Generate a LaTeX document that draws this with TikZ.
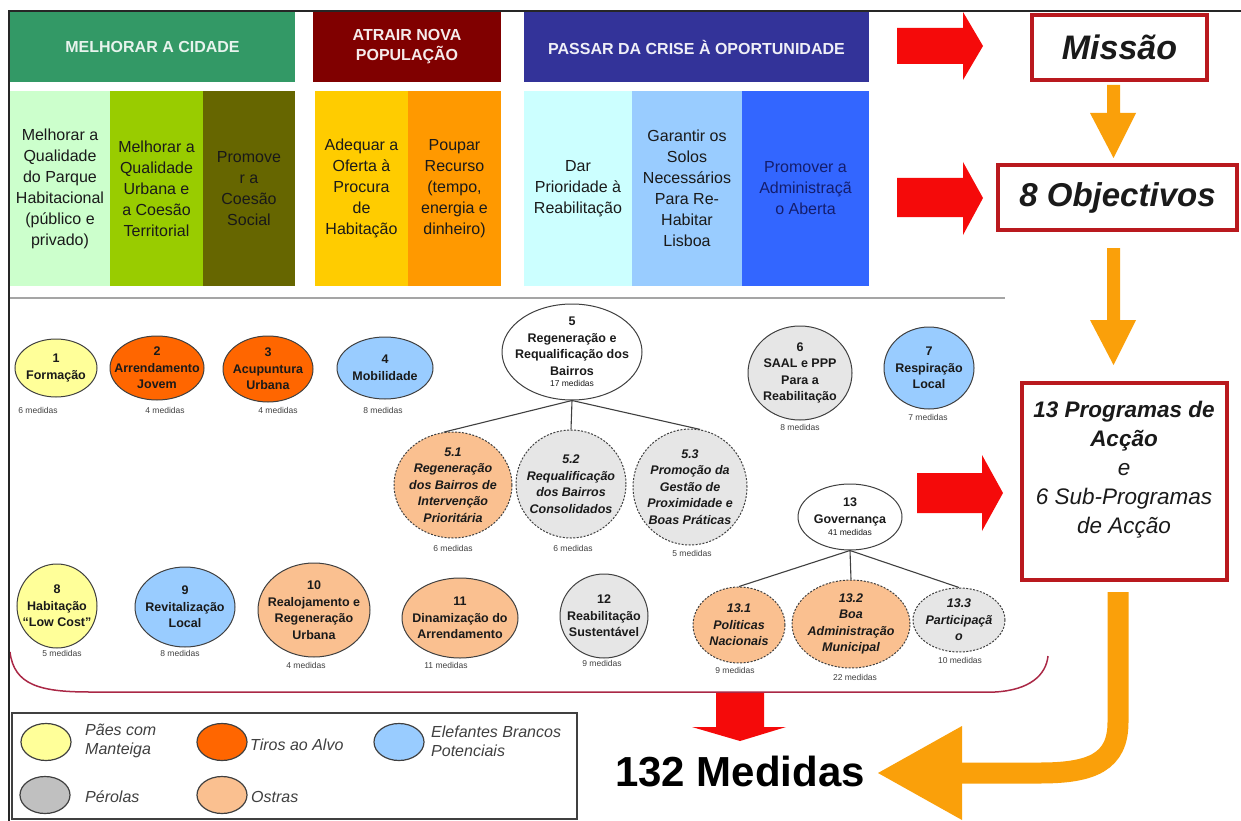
\documentclass[tikz,border=0pt]{standalone}
\usepackage{fontspec}
\setmainfont{Liberation Sans}
\usetikzlibrary{shapes.geometric}
\definecolor{hgreen}{RGB}{51,153,102}
\definecolor{hred}{RGB}{128,0,0}
\definecolor{hblue}{RGB}{51,51,153}
\definecolor{c1}{RGB}{204,255,204}
\definecolor{c2}{RGB}{153,204,0}
\definecolor{c3}{RGB}{102,102,0}
\definecolor{c4}{RGB}{255,204,0}
\definecolor{c5}{RGB}{255,153,0}
\definecolor{c6}{RGB}{204,255,255}
\definecolor{c7}{RGB}{153,204,255}
\definecolor{c8}{RGB}{51,102,255}
\definecolor{yel}{RGB}{255,255,153}
\definecolor{ora}{RGB}{255,102,0}
\definecolor{blu}{RGB}{153,204,255}
\definecolor{gry}{RGB}{230,230,230}
\definecolor{pea}{RGB}{250,192,144}
\definecolor{lgry}{RGB}{192,192,192}
\definecolor{edge}{RGB}{64,64,64}
\definecolor{txt}{RGB}{26,26,26}
\definecolor{darkblue}{RGB}{20,30,110}
\definecolor{arrred}{RGB}{245,10,10}
\definecolor{arrora}{RGB}{250,160,10}
\definecolor{boxred}{RGB}{185,25,30}
\definecolor{curvec}{RGB}{170,40,70}
\definecolor{sepc}{RGB}{165,165,165}
\newcommand\mymed{\fontsize{8.5}{10}\selectfont\mdseries\upshape}
\tikzset{
 prog/.style={ellipse, draw=edge, line width=1pt, inner sep=-60pt, align=center, text=txt, font=\fontsize{12.5}{16.5}\selectfont\bfseries},
 subp/.style={prog, dash pattern=on 2pt off 1.5pt, font=\fontsize{12.5}{16.5}\selectfont\bfseries\itshape},
 sz/.style 2 args={minimum width=#1pt, minimum height=#2pt},
 med/.style={inner sep=0pt, text=edge, font=\fontsize{8.5}{10}\selectfont},
 coltxt/.style={inner sep=0pt, align=center, font=\fontsize{16}{21}\selectfont, text=txt, minimum height=195pt},
 head/.style={inner sep=0pt, align=center, font=\fontsize{16}{20}\selectfont\bfseries, minimum height=70pt},
 bigbox/.style={draw=boxred, line width=4pt, inner sep=0pt},
 legc/.style={ellipse, draw=edge, line width=1.2pt, minimum width=50pt, minimum height=37pt, inner sep=0pt},
 legt/.style={anchor=west, align=left, inner sep=0pt, text=edge, font=\fontsize{16}{19}\selectfont\itshape},
 tree/.style={draw=edge, line width=1.1pt},
}
\begin{document}
\begin{tikzpicture}[x=1pt,y=-1pt]
\useasboundingbox (0,0) rectangle (1241,821);
\fill[white] (0,0) rectangle (1241,821);

% headers
\node[head, fill=hgreen, minimum width=285pt, text=white!88!hgreen] (h1) at (152.5,47) {MELHORAR A CIDADE};
\node[head, fill=hred, minimum width=188pt, text=white!92!hred] (h2) at (407,47) {ATRAIR NOVA\\POPULAÇÃO};
\node[head, fill=hblue, minimum width=345pt, text=white!92!hblue] (h3) at (696.5,47) {PASSAR DA CRISE À OPORTUNIDADE};

% columns
\node[coltxt, fill=c1, minimum width=100pt] (k1) at (60,188.5) {Melhorar a\\Qualidade\\do Parque\\Habitacional\\(público e\\privado)};
\node[coltxt, fill=c2, minimum width=93pt] (k2) at (156.5,188.5) {Melhorar a\\Qualidade\\Urbana e\\a Coesão\\Territorial};
\node[coltxt, fill=c3, minimum width=92pt, text=black!90] (k3) at (249,188.5) {Promove\\r a\\Coesão\\Social};
\node[coltxt, fill=c4, minimum width=93pt] (k4) at (361.5,188.5) {Adequar a\\Oferta à\\Procura\\de\\Habitação};
\node[coltxt, fill=c5, minimum width=93pt] (k5) at (454.5,188.5) {Poupar\\Recurso\\(tempo,\\energia e\\dinheiro)};
\node[coltxt, fill=c6, minimum width=108pt] (k6) at (578,188.5) {Dar\\Prioridade à\\Reabilitação};
\node[coltxt, fill=c7, minimum width=110pt] (k7) at (687,188.5) {Garantir os\\Solos\\Necessários\\Para Re-\\Habitar\\Lisboa};
\node[coltxt, fill=c8, minimum width=127pt, text=darkblue] (k8) at (805.5,188.5) {Promover a\\Administraçã\\o Aberta};

% separator
\draw[line width=2.2pt, sepc] (10,298) -- (1005,298);

% right column boxes
\node[bigbox, minimum width=175pt, minimum height=65pt, font=\fontsize{34}{40}\selectfont\bfseries\itshape, text=txt] (mis) at (1119.5,47.5) {Missão};
\node[bigbox, minimum width=239pt, minimum height=65pt, font=\fontsize{33}{40}\selectfont\bfseries\itshape, text=txt] (obj) at (1117.5,197.5) {8 Objectivos};
\node[bigbox, minimum width=205pt, minimum height=197pt] (prg) at (1124.5,481.5) {};
\node[align=center, inner sep=0pt, font=\fontsize{22.5}{29}\selectfont\itshape, text=txt] (prgt) at (1124,470) {\textbf{13 Programas de}\\\textbf{Acção}\\e\\6 Sub-Programas\\de Acção};

% red block arrows
\fill[arrred] (897,28) -- (963,28) -- (963,12) -- (983,46) -- (963,80) -- (963,64) -- (897,64) -- cycle;
\fill[arrred] (897,178) -- (963,178) -- (963,162) -- (983,198) -- (963,235) -- (963,217) -- (897,217) -- cycle;
\fill[arrred] (917,473) -- (982,473) -- (982,455) -- (1003,493) -- (982,531) -- (982,513) -- (917,513) -- cycle;
\fill[arrred] (716,693) -- (764,693) -- (764,727) -- (786,727) -- (740,741) -- (692,727) -- (716,727) -- cycle;

% orange arrows
\fill[arrora] (1107,85) -- (1120,85) -- (1120,113) -- (1136,113) -- (1113.5,158) -- (1090,113) -- (1107,113) -- cycle;
\fill[arrora] (1107,248) -- (1120,248) -- (1120,320) -- (1136,320) -- (1113.5,365) -- (1090,320) -- (1107,320) -- cycle;
\draw[arrora, line width=21pt] (1118,592) -- (1118,722) .. controls (1118,762) and (1092,773) .. (1040,773) -- (955,773);
\fill[arrora] (962,726) -- (878,773) -- (962,820) -- cycle;

% total
\node[inner sep=0pt, font=\fontsize{42}{48}\selectfont\bfseries, text=black] (tot) at (740,772) {132 Medidas};

% bottom curve
\draw[curvec, line width=1.5pt] (10,652) .. controls (14,685) and (40,692) .. (90,692) -- (995,692) .. controls (1030,690) and (1046,675) .. (1048,656);

% programme nodes
\node[prog, sz={82}{58}, fill=yel] (n1) at (56,368) {1\\Formação};
\node[prog, sz={94}{64}, fill=ora] (n2) at (157,368) {2\\Arrendamento\\Jovem};
\node[prog, sz={90}{66}, fill=ora] (n3) at (268,369) {3\\Acupuntura\\Urbana};
\node[prog, sz={96}{62}, fill=blu] (n4) at (385,368) {4\\Mobilidade};
\node[prog, sz={140}{96}, fill=white] (n5) at (572,352) {5\\Regeneração e\\Requalificação dos\\Bairros\\[-5pt]{\mymed 17 medidas}};
\node[prog, sz={104}{94}, fill=gry] (n6) at (800,373) {6\\SAAL e PPP\\Para a\\Reabilitação};
\node[prog, sz={90}{82}, fill=blu] (n7) at (929,368) {7\\Respiração\\Local};
\node[subp, sz={118}{106}, fill=pea] (n51) at (453,485) {5.1\\Regeneração\\dos Bairros de\\Intervenção\\Prioritária};
\node[subp, sz={110}{108}, fill=gry] (n52) at (571,484) {5.2\\Requalificação\\dos Bairros\\Consolidados};
\node[subp, sz={114}{116}, fill=gry] (n53) at (690,487) {5.3\\Promoção da\\Gestão de\\Proximidade e\\Boas Práticas};
\node[prog, sz={104}{66}, fill=white] (n13) at (850,517) {13\\Governança\\[-4pt]{\mymed 41 medidas}};
\node[subp, sz={92}{76}, fill=pea] (n131) at (739,625) {13.1\\Politicas\\Nacionais};
\node[subp, sz={118}{88}, fill=pea] (n132) at (851,624) {13.2\\Boa\\Administração\\Municipal};
\node[subp, sz={92}{64}, fill=gry] (n133) at (959,620) {13.3\\Participaçã\\o};
\node[prog, sz={80}{84}, fill=yel] (n8) at (57,606) {8\\Habitação\\“Low Cost”};
\node[prog, sz={100}{80}, fill=blu] (n9) at (185,607) {9\\Revitalização\\Local};
\node[prog, sz={112}{94}, fill=pea] (n10) at (314,610) {10\\Realojamento e\\Regeneração\\Urbana};
\node[prog, sz={116}{80}, fill=pea] (n11) at (460,618) {11\\Dinamização do\\Arrendamento};
\node[prog, sz={88}{84}, fill=gry] (n12) at (604,616) {12\\Reabilitação\\Sustentável};

% tree connectors
\draw[tree] (n5.south) -- (n51.100);
\draw[tree] (n5.south) -- (n52.north);
\draw[tree] (n5.south) -- (n53.80);
\draw[tree] (n13.south) -- (n131.north);
\draw[tree] (n13.south) -- (n132.north);
\draw[tree] (n13.south) -- (n133.north);

% medidas labels
\node[med] (m1) at (38,410) {6 medidas};
\node[med] (m2) at (165,410) {4 medidas};
\node[med] (m3) at (278,410) {4 medidas};
\node[med] (m4) at (383,410) {8 medidas};
\node[med] (m6) at (800,427) {8 medidas};
\node[med] (m7) at (928,417) {7 medidas};
\node[med] (m51) at (453,548) {6 medidas};
\node[med] (m52) at (573,548) {6 medidas};
\node[med] (m53) at (692,553) {5 medidas};
\node[med] (m131) at (735,670) {9 medidas};
\node[med] (m132) at (855,677) {22 medidas};
\node[med] (m133) at (960,660) {10 medidas};
\node[med] (m8) at (62,653) {5 medidas};
\node[med] (m9) at (180,653) {8 medidas};
\node[med] (m10) at (306,665) {4 medidas};
\node[med] (m11) at (446,665) {11 medidas};
\node[med] (m12) at (602,663) {9 medidas};

% legend
\node[draw=edge, line width=1.3pt, minimum width=565pt, minimum height=106pt, inner sep=0pt] (leg) at (294.5,766) {};
\node[legc, fill=yel] (l1) at (46,742) {};
\node[legt] (t1) at (85,741) {Pães com\\Manteiga};
\node[legc, fill=ora] (l2) at (222,742) {};
\node[legt] (t2) at (250,745) {Tiros ao Alvo};
\node[legc, fill=blu] (l3) at (399,742) {};
\node[legt] (t3) at (431,741) {Elefantes Brancos\\Potenciais};
\node[legc, fill=lgry] (l4) at (45,795) {};
\node[legt] (t4) at (85,797) {Pérolas};
\node[legc, fill=pea] (l5) at (222,795) {};
\node[legt] (t5) at (251,797) {Ostras};

% frame
\draw[line width=1.5pt, black!85] (9,821) -- (9,11) -- (1241,11);
\end{tikzpicture}
\end{document}
